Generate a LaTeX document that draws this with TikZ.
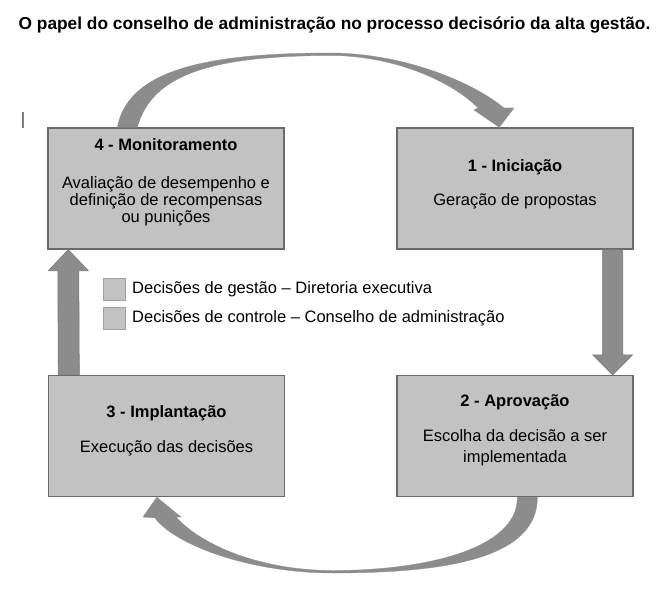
\documentclass[tikz,border=0pt]{standalone}
\usepackage{fontspec}
\setmainfont{Liberation Sans}
\usetikzlibrary{calc}
\definecolor{boxfill}{HTML}{C2C2C2}
\definecolor{boxline}{HTML}{6A6A6A}
\definecolor{arrfill}{HTML}{8C8C8C}
\definecolor{arrline}{HTML}{787878}
\tikzset{
  box/.style={draw=boxline, fill=boxfill, line width=1.4pt, minimum width=236pt, minimum height=121pt, inner sep=0pt},
  legsq/.style={draw=gray!75, fill=boxfill, line width=0.9pt, minimum size=22pt, inner sep=0pt},
  ttl/.style={font=\fontsize{16.5}{17}\selectfont\bfseries, inner sep=0pt, anchor=center},
  bdy/.style={font=\fontsize{16.5}{17}\selectfont, align=center, inner sep=0pt, anchor=center},
  leg/.style={font=\fontsize{16.5}{17}\selectfont, inner sep=0pt, anchor=west},
  arr/.style={fill=arrfill, draw=arrline, line width=0.6pt, line join=round},
  arcfill/.style={fill=arrfill, draw=arrfill, line width=0.3pt, line join=round}
}
\begin{document}
\begin{tikzpicture}[x=1pt,y=-1pt]
\useasboundingbox (0,0) rectangle (669,591);
\node[font=\fontsize{17.3}{18}\selectfont\bfseries, inner sep=0pt] (title) at (334.5,25) {O papel do conselho de administração no processo decisório da alta gestão.};
\draw[gray, line width=2pt] (23,112) -- (23,128);
% boxes
\node[box] (n4) at (166,188.5) {};
\node[box] (n1) at (515,188.5) {};
\node[box] (n3) at (166.5,436) {};
\node[box] (n2) at (515,436) {};
% texts
\node[ttl] (n4t) at (166,145) {4 - Monitoramento};
\node[bdy] (n4b) at (166,201) {Avaliação de desempenho e\\definição de recompensas\\ou punições};
\node[ttl] (n1t) at (515,167) {1 - Iniciação};
\node[bdy] (n1b) at (515,201) {Geração de propostas};
\node[ttl] (n3t) at (166.5,413) {3 - Implantação};
\node[bdy] (n3b) at (166.5,448) {Execução das decisões};
\node[ttl] (n2t) at (515,402) {2 - Aprovação};
\node[bdy, font=\fontsize{16.5}{20.5}\selectfont] (n2b) at (515,447.5) {Escolha da decisão a ser\\implementada};
% legend
\node[legsq] (l1) at (114,289) {};
\node[leg] (l1t) at (132,289) {Decisões de gestão – Diretoria executiva};
\node[legsq] (l2) at (114,318) {};
\node[leg] (l2t) at (132,318) {Decisões de controle – Conselho de administração};
% right vertical arrow n1 -> n2
\coordinate (rs) at ($(n1.south east)+(-21,0)$);
\coordinate (rt) at ($(n2.north east)+(-21,0)$);
\draw[arr] ($(rs)+(-10,0)$) -- ($(rt)+(-10,-20)$) -- ($(rt)+(-20,-20)$) -- (rt) -- ($(rt)+(20,-20)$) -- ($(rt)+(10,-20)$) -- ($(rs)+(10,0)$) -- cycle;
% left vertical arrow n3 -> n4
\coordinate (ls) at ($(n3.north west)+(21,0)$);
\coordinate (lt) at ($(n4.south west)+(21,0)$);
\draw[arr] ($(ls)+(-10.5,0)$) -- ($(lt)+(-10.5,21)$) -- ($(lt)+(-20,21)$) -- (lt) -- ($(lt)+(20,21)$) -- ($(lt)+(10.5,21)$) -- ($(ls)+(10.5,0)$) -- cycle;
% top arc n4 -> n1
\coordinate (ta) at ($(n4.north west)+(70,0)$);
\coordinate (tb) at ($(n4.north west)+(90,0)$);
\coordinate (tt) at ($(n1.north west)+(103,0)$);
\draw[arcfill] (ta) .. controls (128,72) and (200,53) .. (330,53) .. controls (400,53) and (470,80) .. (504,108) -- (514,108) -- (tt) -- (474,110) -- (478,108) .. controls (455,84) and (398,55.5) .. (330,55.5) .. controls (212,56) and (152,74) .. (tb) -- cycle;
% bottom arc n2 -> n3
\coordinate (ba) at ($(n2.south west)+(141,0)$);
\coordinate (bb) at ($(n2.south west)+(121,0)$);
\coordinate (bt) at ($(n3.south west)+(109,0)$);
\draw[arcfill] (ba) .. controls (538,560) and (440,573) .. (333,573) .. controls (250,573) and (175,545) .. (155,518) -- (143,517) -- (bt) -- (181,517) -- (176,517) .. controls (202,546) and (262,570.5) .. (333,570.5) .. controls (422,570.5) and (518,550) .. (bb) -- cycle;
\end{tikzpicture}
\end{document}
